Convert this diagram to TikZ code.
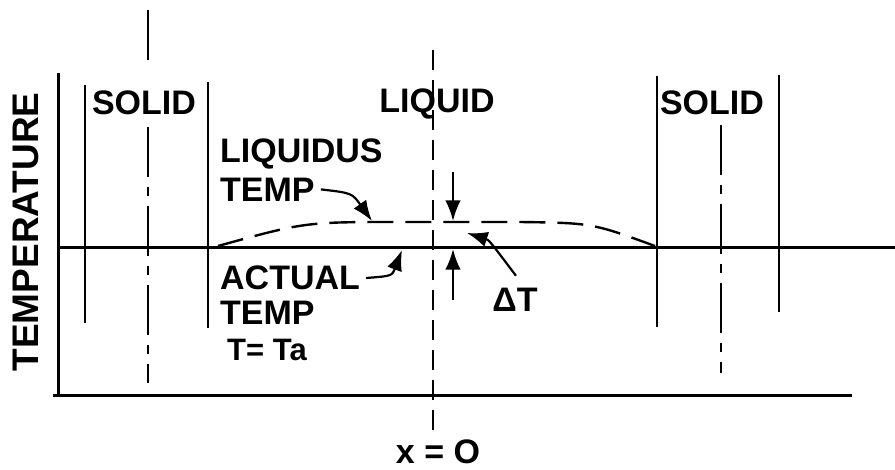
\documentclass[tikz,border=0pt]{standalone}
\usepackage{fontspec}
\setmainfont{Liberation Sans}
\usepackage{tikz}
\usetikzlibrary{arrows.meta,positioning}
\tikzset{
    lettering/.style = {font=\fontsize{34}{36}\selectfont\bfseries, inner sep=0pt, text height=24pt, text depth=0pt},
    axisline/.style = {line width=3pt},
    phaseline/.style = {line width=2.4pt},
    centreline/.style = {line width=2.4pt, dash pattern=on 50pt off 10pt on 9pt off 10pt},
    originline/.style = {line width=2.4pt, dash pattern=on 20pt off 10pt},
    liquidus/.style = {line width=2.4pt, dash pattern=on 26pt off 12pt},
    pointer/.style = {line width=2.2pt, -{Latex[scale=1.6]}}
}

\begin{document}
\begin{tikzpicture}[x=1pt, y=-1pt]
    \useasboundingbox (0,0) rectangle (895,470);

    % axes and actual temperature
    \draw[axisline] (58,73) -- (58,396);
    \draw[axisline] (53,396) -- (852,396);
    \draw[axisline] (58,248) -- (895,248);

    % solid / liquid boundaries
    \draw[phaseline] (85,85) -- (85,323);
    \draw[phaseline] (208,82) -- (208,328);
    \draw[phaseline] (657,76) -- (657,327);
    \draw[phaseline] (779,75) -- (779,312);
    \draw[centreline] (148,10) -- (148,68);
    \draw[centreline] (148,127) -- (148,383);
    \draw[centreline] (721,125) -- (721,373);
    \draw[originline] (433,50) -- (433,440);

    % liquidus temperature
    \coordinate (liqTip) at (372,221);
    \draw[liquidus] (218,246) .. controls (305,222) .. (400,222) -- (520,222)
        .. controls (592,223) .. (655,246);

    \coordinate (actTip) at (402,250);
    \coordinate (dtTip) at (467,233);
    \coordinate (gapTop) at (453,172);
    \coordinate (gapLiq) at (453,221);
    \coordinate (gapBot) at (453,300);
    \coordinate (gapAct) at (453,249);

    \node[lettering] (solidL) at (144,103) {SOLID};
    \node[lettering] (liquid) at (437,101) {LIQUID};
    \node[lettering] (solidR) at (712,103) {SOLID};
    \node[lettering, font=\fontsize{37}{40}\selectfont\bfseries, rotate=90] (temp) at (26,232) {TEMPERATURE};

    \node[lettering, anchor=west] (liqA) at (220,151) {LIQUIDUS};
    \node[lettering, below right=14pt and 0pt of liqA.south west] (liqB) {TEMP};
    \node[lettering, anchor=west] (actA) at (220,278) {ACTUAL};
    \node[lettering, below right=10pt and 0pt of actA.south west] (actB) {TEMP};
    \node[lettering, font=\fontsize{31}{34}\selectfont\bfseries, below right=12pt and 7pt of actB.south west] (actC) {T= Ta};
    \node[lettering] (dT) at (515,300) {ΔT};
    \node[lettering] (origin) at (438,452) {x = O};

    \draw[pointer] ([xshift=6pt]liqB.east) .. controls (352,193) .. (liqTip);
    \draw[pointer] ([xshift=6pt]actA.east) .. controls (392,276) .. (actTip);
    \draw[pointer] ([xshift=1pt,yshift=12pt]dT.north) .. controls (489,240) .. (dtTip);
    \draw[pointer] (gapTop) -- (gapLiq);
    \draw[pointer] (gapBot) -- (gapAct);
\end{tikzpicture}
\end{document}
